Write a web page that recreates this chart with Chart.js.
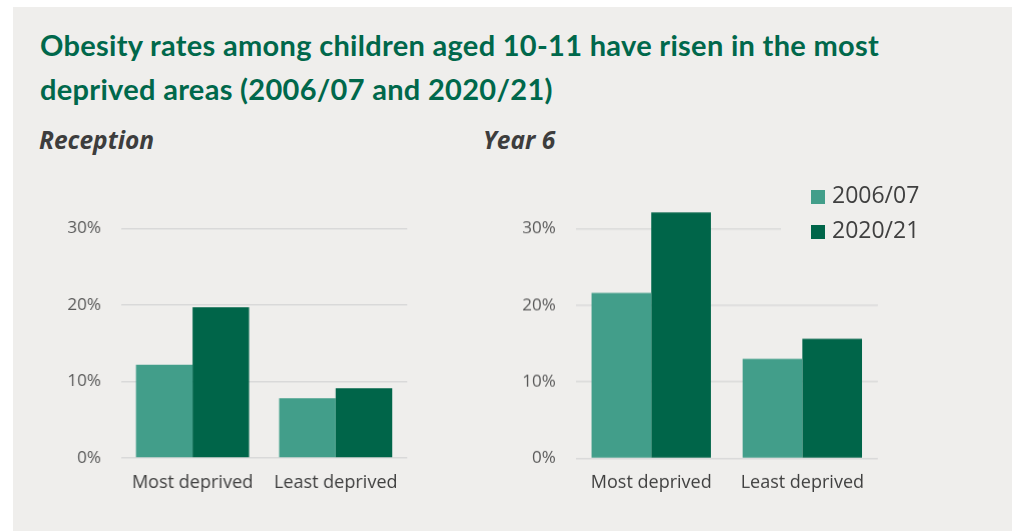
<!DOCTYPE html>
<html>
<head>
<meta charset="utf-8">
<script src="https://cdn.jsdelivr.net/npm/chart.js@4.4.1/dist/chart.umd.min.js"></script>
<style>
  html, body { margin: 0; padding: 0; background: #ffffff; }
  body { width: 1013px; height: 531px; position: relative; overflow: hidden; font-family: "Open Sans", sans-serif; }
  #panel { position: absolute; left: 13px; top: 7px; width: 999px; height: 524px; background: #efeeec; }
  #title { position: absolute; left: 40px; top: 23px; width: 960px; margin: 0;
           font-family: Lato, sans-serif; font-weight: 700; font-size: 29px; letter-spacing: 0.3px;
           line-height: 44px; color: #00684b; }
  .sub { position: absolute; top: 123px; margin: 0; font-family: "Open Sans", sans-serif; font-weight: 700;
         font-style: italic; font-size: 24.5px; color: #3d3d3d; }
  .box { position: absolute; }
  #legend { position: absolute; left: 781px; top: 177px; background: #efeeec; padding: 0 0 0 30px;
            font-family: "Open Sans", sans-serif; font-size: 23px; color: #404040; line-height: 35px; }
  #legend span.sw { display: inline-block; width: 14px; height: 14px; margin-right: 7px; vertical-align: -1px; }
</style>
</head>
<body>
<div id="panel"></div>
<h1 id="title">Obesity rates among children aged 10-11 have risen in the most<br>deprived areas (2006/07 and 2020/21)</h1>
<p class="sub" style="left:39px">Reception</p>
<p class="sub" style="left:483px">Year 6</p>
<div class="box" style="left:20px; top:160px; width:390.5px; height:351px;"><canvas id="reception"></canvas></div>
<div class="box" style="left:470px; top:160px; width:408px; height:350.5px;"><canvas id="year6"></canvas></div>
<div id="legend"></div>
<script>
// Obesity prevalence (%) by deprivation group
const categories = ["Most deprived", "Least deprived"];
const seriesNames = ["2006/07", "2020/21"];
const reception2006 = [12.2, 7.8];
const reception2020 = [19.7, 9.1];
const year6_2006 = [21.6, 13.0];
const year6_2020 = [32.1, 15.6];
const yTicks = [0, 10, 20, 30];

const colours = ["#429e8a", "#006549"];

function makeChart(id, a, b, yWidth, padTop) {
  return new Chart(document.getElementById(id), {
    type: "bar",
    data: {
      labels: categories,
      datasets: [
        { label: seriesNames[0], data: a, backgroundColor: colours[0], borderWidth: 0 },
        { label: seriesNames[1], data: b, backgroundColor: colours[1], borderWidth: 0 }
      ]
    },
    options: {
      responsive: true,
      maintainAspectRatio: false,
      animation: false,
      layout: { padding: { top: padTop, left: 0, right: 0, bottom: 0 } },
      plugins: { legend: { display: false }, tooltip: { enabled: false } },
      datasets: { bar: { categoryPercentage: 0.79, barPercentage: 1.0 } },
      scales: {
        x: {
          grid: { display: false, drawTicks: false },
          border: { display: false },
          ticks: { color: "#404040", font: { family: "Open Sans", size: 18 }, padding: 14 },
          afterFit: s => { s.height = 53; }
        },
        y: {
          min: 0, max: 35,
          afterBuildTicks: s => { s.ticks = yTicks.map(v => ({ value: v })); },
          grid: { color: "#d9d9d9", lineWidth: 1.5, drawTicks: false },
          border: { display: false },
          ticks: { color: "#595959", font: { family: "Open Sans", size: 17 }, padding: 20,
                   callback: v => v + "%" },
          afterFit: s => { s.width = yWidth; }
        }
      }
    }
  });
}

makeChart("reception", reception2006, reception2020, 100.7, 19.5);
makeChart("year6", year6_2006, year6_2020, 105.7, 17.5);

// Legend for both panels
const legend = document.getElementById("legend");
seriesNames.forEach((name, i) => {
  const row = document.createElement("div");
  row.innerHTML = '<span class="sw" style="background:' + colours[i] + '"></span>' + name;
  legend.appendChild(row);
});
</script>
</body>
</html>
